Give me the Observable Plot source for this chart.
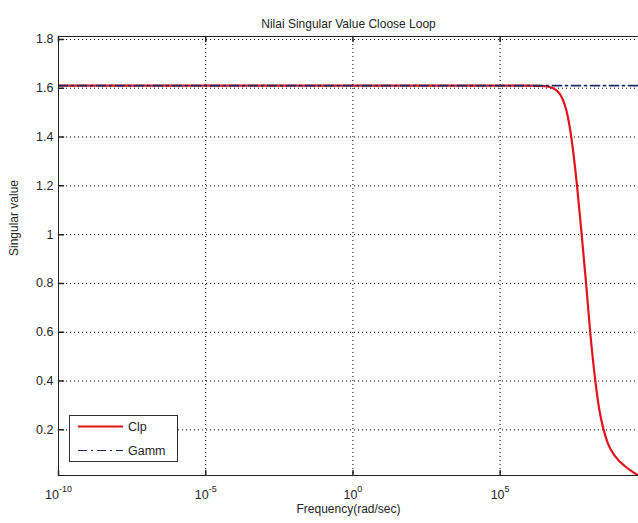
<!DOCTYPE html>
<html><head><meta charset="utf-8">
<script src="https://cdn.jsdelivr.net/npm/d3@7"></script>
<script src="https://cdn.jsdelivr.net/npm/@observablehq/plot@0.6"></script>
<style>
html,body{margin:0;padding:0;background:#fff;overflow:hidden}
#chart{width:638px;height:523px;position:relative}
</style></head><body><div id="chart"></div>
<script>
const titleText = "Nilai Singular Value Cloose Loop";
const xLabelText = "Frequency(rad/sec)";
const yLabelText = "Singular value";
const seriesNames = ["Clp", "Gamm"];

// Clp: log10(frequency) and singular value
const clpFreqExp = [-10, -5, 0, 5, 6.0, 6.3, 6.6, 6.8, 6.95, 7.05, 7.15, 7.25, 7.33, 7.42, 7.52, 7.61, 7.77, 7.92, 8.06, 8.235, 8.37, 8.517, 8.66, 8.91, 9.25, 9.5, 9.7];
const clpValue   = [1.611, 1.611, 1.611, 1.611, 1.611, 1.610, 1.607, 1.600, 1.588, 1.572, 1.547, 1.509, 1.465, 1.397, 1.302, 1.203, 1.00, 0.80, 0.60, 0.40, 0.282, 0.20, 0.145, 0.091, 0.050, 0.028, 0.013];

// Gamm: constant level
const gammFreqExp = [-10, -5, 0, 5, 9.7];
const gammValue   = [1.611, 1.611, 1.611, 1.611, 1.611];

const xTickExp = [-10, -5, 0, 5];
const yTicks = [0.2, 0.4, 0.6, 0.8, 1.0, 1.2, 1.4, 1.6, 1.8];
const xDomainExp = [-10, 9.7];
const yDomain = [0.013, 1.812];

const clpColor = "#e3131b";
const gammColor = "#1e2a66";
const axisColor = "#222";
const textColor = "#262626";
const gammDash = "9,4,2,4";

const clp = clpFreqExp.map((e, i) => ({f: 10 ** e, v: clpValue[i]}));
const gamm = gammFreqExp.map((e, i) => ({f: 10 ** e, v: gammValue[i]}));
const xTicks = xTickExp.map(e => 10 ** e);
const xMin = 10 ** xDomainExp[0];

const chart = Plot.plot({
  width: 638, height: 523,
  marginLeft: 58, marginRight: 0, marginTop: 36, marginBottom: 48,
  x: {type: "log", domain: [10 ** xDomainExp[0], 10 ** xDomainExp[1]], axis: null},
  y: {domain: yDomain, axis: null},
  style: {fontFamily: "'Liberation Sans', Arial, sans-serif", fontSize: "12px", background: "white", overflow: "visible"},
  marks: [
    Plot.ruleY(yTicks, {y: d => d, stroke: "#000", strokeDasharray: "1,3", strokeWidth: 1}),
    Plot.ruleX(xTicks, {x: d => d, stroke: "#000", strokeDasharray: "1,3", strokeWidth: 1}),
    Plot.line(clp, {x: "f", y: "v", stroke: clpColor, strokeWidth: 2.2, curve: "monotone-x", clip: true}),
    Plot.line(gamm, {x: "f", y: "v", stroke: gammColor, strokeWidth: 1.8, strokeDasharray: gammDash, clip: true}),
    // frame
    Plot.ruleY([yDomain[0], yDomain[1]], {y: d => d, stroke: axisColor, strokeWidth: 1}),
    Plot.ruleX([xMin], {x: d => d, stroke: axisColor, strokeWidth: 1}),
    // inward ticks
    Plot.vector(xTicks, {x: d => d, y: yDomain[0], length: 5, rotate: 0, anchor: "start", r: 0, stroke: axisColor}),
    Plot.vector(xTicks, {x: d => d, y: yDomain[1], length: 5, rotate: 180, anchor: "start", r: 0, stroke: axisColor}),
    Plot.vector(yTicks, {x: xMin, y: d => d, length: 5, rotate: 90, anchor: "start", r: 0, stroke: axisColor}),
    // tick labels
    Plot.text(yTicks, {x: xMin, y: d => d, text: d => (d === 1 ? "1" : d.toFixed(1)), textAnchor: "end", dx: -5, fontSize: 12.5, fill: textColor}),
    Plot.text(xTickExp, {x: e => 10 ** e, y: yDomain[0], text: e => "10^" + e, dy: 19, fontSize: 12.5, fill: textColor}),
    // titles
    Plot.text([titleText], {frameAnchor: "top", text: d => d, dy: -17, fontSize: 12, fill: textColor}),
    Plot.text([xLabelText], {frameAnchor: "bottom", text: d => d, dy: 37, fontSize: 12, fill: textColor}),
    Plot.text([yLabelText], {frameAnchor: "left", text: d => d, dx: -44, rotate: -90, fontSize: 12, fill: textColor})
  ]
});

document.getElementById("chart").appendChild(chart);

// superscript exponents on x tick labels
d3.select(chart).selectAll("text").each(function () {
  const s = this.textContent;
  if (s.indexOf("^") < 0) return;
  const parts = s.split("^");
  this.textContent = parts[0];
  d3.select(this).append("tspan").attr("dy", "-7").attr("font-size", 9).text(parts[1]);
});

// legend
const svg = d3.select(chart);
const lg = svg.append("g").attr("font-family", "'Liberation Sans', Arial, sans-serif").attr("font-size", 12.5).attr("text-anchor", "start");
lg.append("rect").attr("x", 69.5).attr("y", 415.5).attr("width", 108).attr("height", 46)
  .attr("fill", "white").attr("stroke", "#333").attr("stroke-width", 1);
const rows = [
  {name: seriesNames[0], color: clpColor, width: 2.2, dash: null, y: 426.5},
  {name: seriesNames[1], color: gammColor, width: 1.2, dash: gammDash, y: 450.5}
];
rows.forEach(r => {
  lg.append("line").attr("x1", 78).attr("x2", 123).attr("y1", r.y).attr("y2", r.y)
    .attr("stroke", r.color).attr("stroke-width", r.width).attr("stroke-dasharray", r.dash);
  lg.append("text").attr("x", 128).attr("y", r.y).attr("dy", "0.35em").attr("text-anchor", "start").attr("fill", textColor).text(r.name);
});
</script></body></html>
